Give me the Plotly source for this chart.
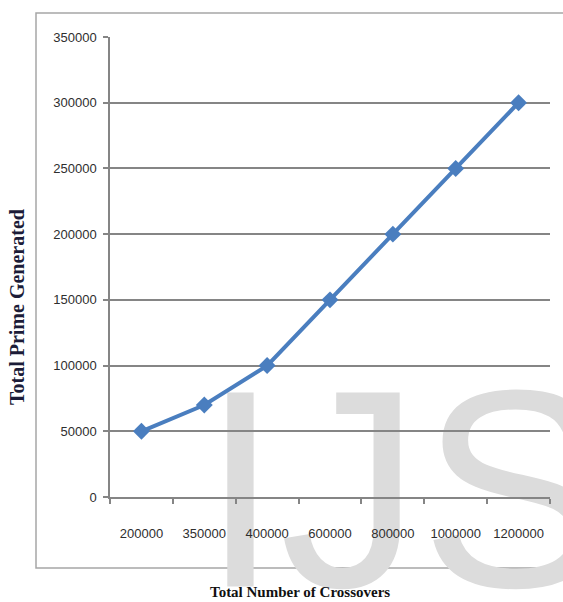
import plotly.graph_objects as go

# Chart data
crossovers = ["200000", "350000", "400000", "600000", "800000", "1000000", "1200000"]
primes_generated = [50000, 70000, 100000, 150000, 200000, 250000, 300000]
y_ticks = [0, 50000, 100000, 150000, 200000, 250000, 300000, 350000]

W, H = 563, 602
L, R, T, B = 110, 13, 37, 105
plot_w = W - L - R
plot_h = H - T - B


def px_x(px):
    return (px - L) / plot_w


def px_y(py):
    return (H - B - py) / plot_h


grid_col = "#858585"
tick_font = dict(family="Liberation Sans, Arial, sans-serif", size=13, color="#2e2e2e")

fig = go.Figure()
fig.add_trace(go.Scatter(
    x=crossovers,
    y=primes_generated,
    mode="lines+markers",
    line=dict(color="#4a7ebf", width=4),
    marker=dict(symbol="diamond", size=13, color="#4a7ebf"),
    showlegend=False,
    cliponaxis=False,
))

fig.update_layout(
    width=W, height=H,
    margin=dict(l=L, r=R, t=T, b=B, pad=0),
    paper_bgcolor="white",
    plot_bgcolor="rgba(0,0,0,0)",
    xaxis=dict(
        type="category",
        range=[-0.5, 6.5],
        showgrid=False,
        showline=True, linecolor=grid_col, linewidth=1.5,
        ticks="outside", ticklen=5, tickcolor=grid_col, tickwidth=1.5,
        tickson="boundaries",
        tickfont=tick_font,
        ticklabelstandoff=24,
        zeroline=False,
    ),
    yaxis=dict(
        range=[0, 350000],
        tickvals=y_ticks,
        ticktext=[str(v) for v in y_ticks],
        showgrid=True, gridcolor=grid_col, gridwidth=1.6,
        showline=True, linecolor=grid_col, linewidth=1.5,
        ticks="outside", ticklen=5, tickcolor=grid_col, tickwidth=1.5,
        tickfont=tick_font,
        ticklabelstandoff=4,
        zeroline=False,
    ),
    shapes=[
        # outer chart frame
        dict(type="rect", xref="paper", yref="paper",
             x0=px_x(36), x1=px_x(570), y0=px_y(568), y1=px_y(13),
             line=dict(color="#a6a6a6", width=1.5), fillcolor="rgba(0,0,0,0)",
             layer="below"),
        # background watermark lettering
        dict(type="rect", xref="paper", yref="paper",
             x0=px_x(205), x1=px_x(605), y0=px_y(610), y1=px_y(314),
             line=dict(width=0), fillcolor="rgba(0,0,0,0)", layer="below",
             label=dict(text="IJS", textposition="middle center",
                        font=dict(family="Liberation Sans, Arial, sans-serif",
                                  size=282, color="#dcdcdc"))),
    ],
    annotations=[
        dict(text="<b>Total Number of Crossovers</b>", xref="paper", yref="paper",
             x=px_x(300), y=px_y(592), xanchor="center", yanchor="middle",
             showarrow=False,
             font=dict(family="Liberation Serif, Times New Roman, serif", size=15, color="#111111")),
        dict(text="<b>Total Prime Generated</b>", xref="paper", yref="paper",
             x=px_x(17), y=px_y(307), xanchor="center", yanchor="middle",
             textangle=-90, showarrow=False,
             font=dict(family="Liberation Serif, Times New Roman, serif", size=20, color="#1c1c38")),
    ],
)

fig.write_html("out.html")
